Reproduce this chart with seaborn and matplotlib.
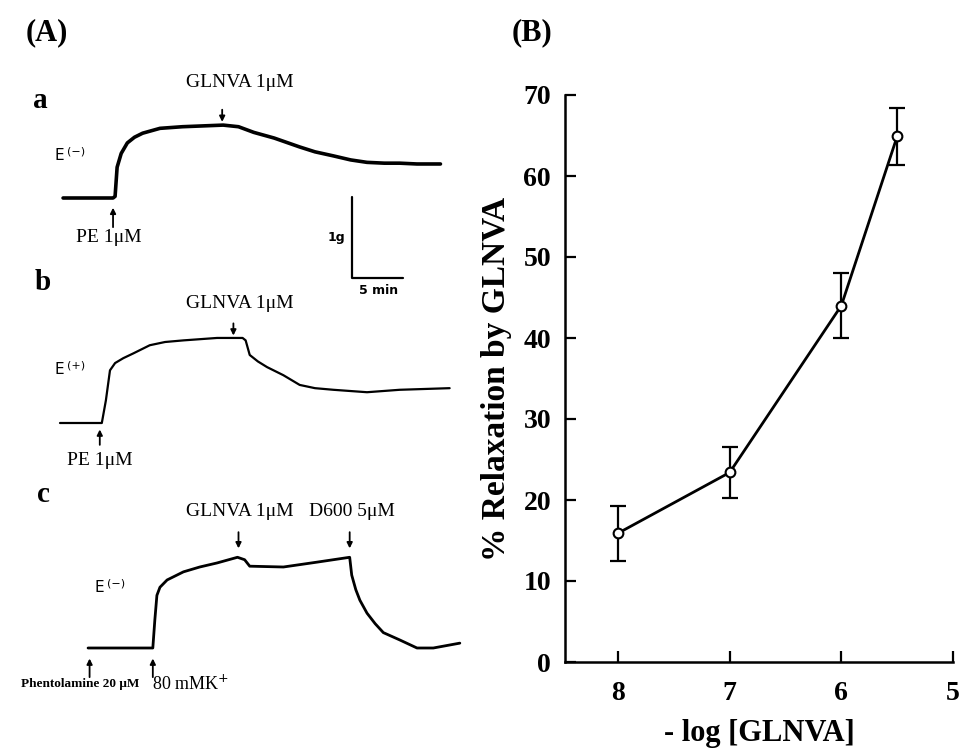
import matplotlib
matplotlib.use("Agg")
import matplotlib.pyplot as plt
import pandas as pd
import seaborn as sns

# ---- data -------------------------------------------------------------
# (A) tension traces, time in min, tension in g above baseline
time_a = [0.3, 5.2, 5.4, 5.6, 6.0, 6.6, 7.3, 8.1, 9.8, 12.0, 14.0, 16.0,
          17.5, 19.0, 21.0, 23.5, 25.0, 26.8, 28.5, 30.1, 31.8, 33.3, 35.0, 37.3]
tension_a = [0.00, 0.00, 0.02, 0.38, 0.55, 0.68, 0.75, 0.80, 0.86, 0.88,
             0.89, 0.90, 0.88, 0.81, 0.74, 0.63, 0.57, 0.52, 0.47, 0.44,
             0.43, 0.43, 0.42, 0.42]

time_b = [0.0, 4.1, 4.5, 4.9, 5.4, 6.2, 7.2, 8.8, 10.3, 12.1, 15.4, 17.9,
          18.2, 18.6, 19.4, 20.3, 21.9, 23.5, 25.0, 26.8, 30.1, 33.3, 38.2]
tension_b = [0.00, 0.00, 0.28, 0.65, 0.74, 0.80, 0.86, 0.96, 1.00, 1.02,
             1.05, 1.05, 1.02, 0.84, 0.76, 0.69, 0.59, 0.47, 0.43, 0.41,
             0.38, 0.41, 0.43]

time_c = [2.75, 9.1, 9.3, 9.5, 9.8, 10.5, 12.1, 13.7, 15.4, 17.4, 18.1, 18.6,
          21.9, 25.2, 28.4, 28.6, 29.0, 29.4, 30.1, 30.9, 31.7, 33.3, 35.0,
          36.6, 39.2]
tension_c = [0.00, 0.00, 0.35, 0.65, 0.75, 0.84, 0.94, 1.00, 1.05, 1.12,
             1.09, 1.01, 1.00, 1.06, 1.12, 0.90, 0.72, 0.59, 0.43, 0.30,
             0.19, 0.10, 0.00, 0.00, 0.06]

# drug additions (min)
pe_a, glnva_a = 5.2, 15.9
pe_b, glnva_b = 3.9, 17.0
phent_c, k_c, glnva_c, d600_c = 2.9, 9.1, 17.5, 28.4

# (B) concentration-response
neg_log_conc = [8, 7, 6, 5.5]
relax_mean = [15.9, 23.4, 44.0, 64.9]
relax_err = [3.4, 3.15, 4.05, 3.5]

# ---- layout -----------------------------------------------------------
W, H = 962, 752
PX_MIN = 10.2   # pixels per minute
PX_G = 81.0     # pixels per gram

sns.set_style("ticks")
plt.rcParams['font.family'] = ['Liberation Serif', 'DejaVu Serif']
for k in ['text.color', 'axes.labelcolor', 'xtick.color', 'ytick.color',
          'axes.edgecolor']:
    plt.rcParams[k] = 'black'

fig = plt.figure(figsize=(W / 100, H / 100), dpi=100)


def px(x, y):
    return x / W, 1 - y / H


def trace_axes(x0, y0, tlim, glim):
    left = x0 + tlim[0] * PX_MIN
    top = y0 - glim[1] * PX_G
    width = (tlim[1] - tlim[0]) * PX_MIN
    height = (glim[1] - glim[0]) * PX_G
    ax = fig.add_axes([left / W, 1 - (top + height) / H, width / W, height / H])
    ax.set_xlim(tlim)
    ax.set_ylim(glim)
    ax.axis('off')
    return ax


def arrow(ax, t, g_tail, g_head):
    ax.annotate("", xy=(t, g_head), xytext=(t, g_tail),
                arrowprops=dict(arrowstyle='-|>', lw=1.3, color='black',
                                mutation_scale=8, shrinkA=0, shrinkB=0),
                annotation_clip=False)


serif_txt = dict(family=['Liberation Serif', 'DejaVu Serif'], fontsize=14,
                 ha='center', va='center', clip_on=False)

# trace a
ax_a = trace_axes(60, 198, (-2, 40), (-1.35, 1.6))
sns.lineplot(x=time_a, y=tension_a, ax=ax_a, sort=False, color='black',
             lw=2.6, estimator=None)
arrow(ax_a, pe_a, -0.36, -0.12)
ax_a.text(pe_a - 0.4, -0.49, "PE 1μM", **serif_txt)
arrow(ax_a, glnva_a, 1.09, 0.94)
ax_a.text(glnva_a + 1.7, 1.43, "GLNVA 1μM", **serif_txt)
# scale bar 1 g / 5 min
sb_t, sb_g = 28.6, -0.99
ax_a.plot([sb_t, sb_t, sb_t + 5], [sb_g + 1, sb_g, sb_g], color='black',
          lw=1.6, clip_on=False)
ax_a.text(sb_t - 1.5, sb_g + 0.5, "1g", family='DejaVu Sans', weight='bold',
          fontsize=9, ha='center', va='center')
ax_a.text(sb_t + 2.6, sb_g - 0.15, "5 min", family='DejaVu Sans',
          weight='bold', fontsize=9, ha='center', va='center')

# trace b
ax_b = trace_axes(60, 423, (-2, 40), (-0.6, 1.6))
sns.lineplot(x=time_b, y=tension_b, ax=ax_b, sort=False, color='black',
             lw=1.6, estimator=None)
arrow(ax_b, pe_b, -0.27, -0.08)
ax_b.text(pe_b, -0.46, "PE 1μM", **serif_txt)
arrow(ax_b, glnva_b, 1.23, 1.08)
ax_b.text(glnva_b + 0.6, 1.48, "GLNVA 1μM", **serif_txt)

# trace c
ax_c = trace_axes(60, 648, (-2, 40), (-0.6, 1.9))
sns.lineplot(x=time_c, y=tension_c, ax=ax_c, sort=False, color='black',
             lw=2.0, estimator=None)
arrow(ax_c, phent_c, -0.36, -0.13)
arrow(ax_c, k_c, -0.36, -0.13)
arrow(ax_c, glnva_c, 1.43, 1.23)
arrow(ax_c, d600_c, 1.43, 1.23)
ax_c.text(glnva_c + 0.1, 1.68, "GLNVA 1μM", **serif_txt)
ax_c.text(d600_c + 0.2, 1.68, "D600 5μM", **serif_txt)
ax_c.text(phent_c - 0.9, -0.44, "Phentolamine 20 μM", family='Liberation Serif',
          weight='bold', fontsize=9.5, ha='center', va='center')
ax_c.text(k_c - 0.1, -0.44, "80 mMK$^{+}$", family='Liberation Serif',
          fontsize=13, ha='left', va='center')

# panel letters and E labels
fig.text(*px(47, 33), "(A)", fontsize=22, weight='bold', ha='center', va='center')
fig.text(*px(532, 33), "(B)", fontsize=22, weight='bold', ha='center', va='center')
for lbl, (x, y) in zip("abc", [(40, 100), (43, 282), (43, 495)]):
    fig.text(*px(x, y), lbl, fontsize=21, weight='bold', ha='center', va='center')
for sign, (x, y) in zip(["(−)", "(+)", "(−)"], [(55, 155), (55, 369), (95, 587)]):
    fig.text(*px(x, y), "E", family='DejaVu Sans', fontsize=11, ha='left', va='center')
    fig.text(*px(x + 12, y - 3), sign, family='DejaVu Sans', fontsize=8,
             ha='left', va='center')

# ---- panel B ----------------------------------------------------------
df = pd.DataFrame({"conc": neg_log_conc, "relax": relax_mean, "err": relax_err})
ax_b2 = fig.add_axes([565 / W, (H - 662) / H, 388 / W, 567 / H])
ax_b2.errorbar(df["conc"], df["relax"], yerr=df["err"], fmt='none',
               ecolor='black', elinewidth=1.6, capsize=6, capthick=1.6)
sns.lineplot(data=df, x="conc", y="relax", ax=ax_b2, color='black', lw=2.0,
             marker='o', markersize=7, markerfacecolor='white',
             markeredgecolor='black', markeredgewidth=1.5, estimator=None,
             sort=False, zorder=3)
ax_b2.set_xlim(8.475, 5.0)
ax_b2.set_ylim(0, 70)
ax_b2.set_xticks([8, 7, 6, 5])
ax_b2.set_yticks(range(0, 71, 10))
sns.despine(ax=ax_b2)
for s in ax_b2.spines.values():
    s.set_linewidth(1.8)
ax_b2.tick_params(direction='in', length=8, width=1.6, labelsize=20)
ax_b2.tick_params(axis='x', pad=14)
ax_b2.tick_params(axis='y', pad=10)
for lab in ax_b2.get_xticklabels() + ax_b2.get_yticklabels():
    lab.set_fontweight('bold')
ax_b2.set_xlabel("- log [GLNVA]", fontsize=22, weight='bold', labelpad=9)
ax_b2.set_ylabel("% Relaxation by GLNVA", fontsize=24, weight='bold', labelpad=8)

fig.savefig("out.png", dpi=100, facecolor='white')
